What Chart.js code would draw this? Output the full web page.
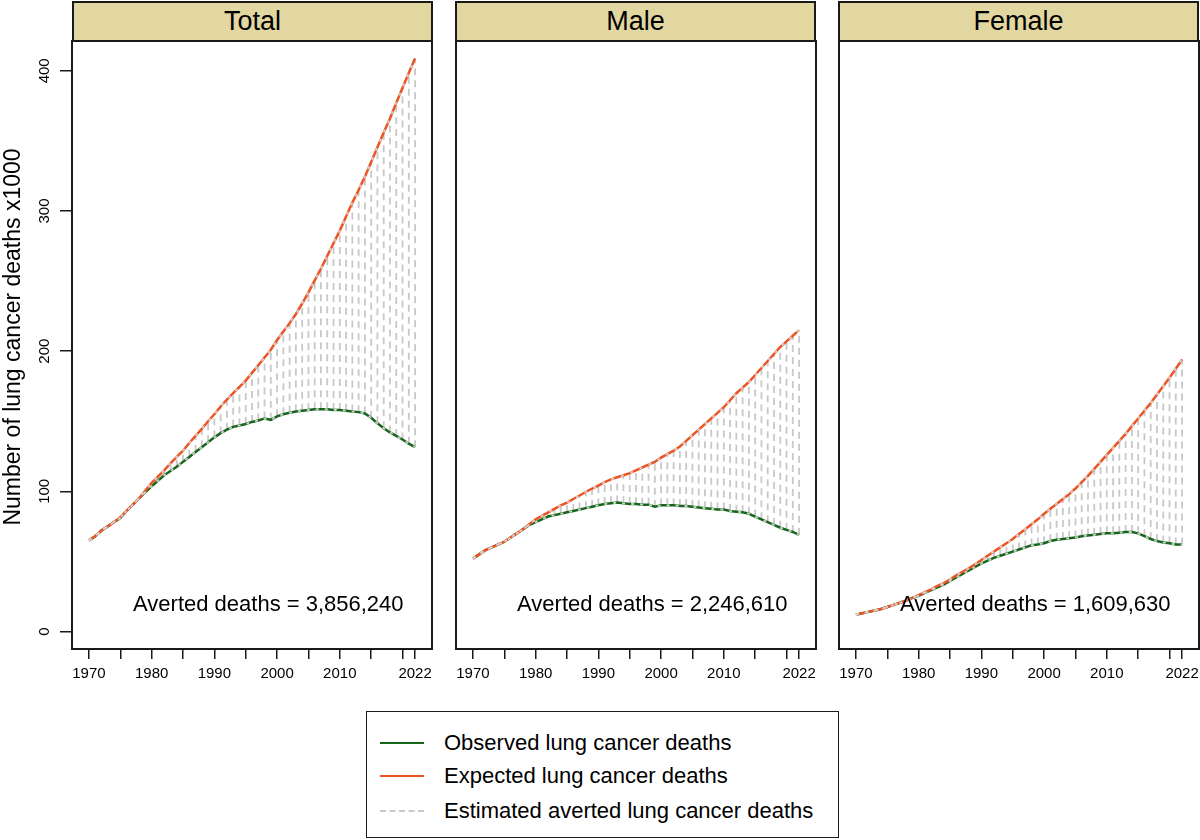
<!DOCTYPE html>
<html>
<head>
<meta charset="utf-8">
<title>Averted lung cancer deaths</title>
<script src="https://cdn.jsdelivr.net/npm/chart.js@4.4.0/dist/chart.umd.min.js"></script>
<style>
  html, body { margin: 0; padding: 0; background: #fff; }
  #wrap { position: relative; width: 1200px; height: 840px; overflow: hidden;
          font-family: "Liberation Sans", Arial, Helvetica, sans-serif; color: #000; }
  .strip { position: absolute; top: 1px; height: 41px; box-sizing: border-box;
           border: 2px solid #1a1a1a; background: #e3d7a1; text-align: center;
           font-size: 27px; line-height: 36px; }
  .cv { position: absolute; top: 40px; height: 659px; }
  #ytitle { position: absolute; left: -238px; top: 324px; width: 500px; text-align: center;
            font-size: 23px; line-height: 26px; transform: rotate(-90deg); }
  #legend { position: absolute; left: 366px; top: 711px; width: 473px; height: 127px;
            box-sizing: border-box; border: 1.5px solid #1a1a1a; }
  .row { position: absolute; left: 0; height: 30px; font-size: 22px; line-height: 30px; }
  .row .sw { position: absolute; left: 13px; top: 14px; width: 44px; height: 0; }
  .row .tx { position: absolute; left: 77px; top: 0; white-space: nowrap; }
</style>
</head>
<body>
<div id="wrap">
  <div class="strip" style="left:72px;width:361px">Total</div>
  <div class="strip" style="left:455px;width:361px">Male</div>
  <div class="strip" style="left:838px;width:361px">Female</div>

  <div class="cv" style="left:0px;width:452px"><canvas id="c0"></canvas></div>
  <div class="cv" style="left:436px;width:400px"><canvas id="c1"></canvas></div>
  <div class="cv" style="left:819px;width:400px"><canvas id="c2"></canvas></div>

  <div id="ytitle">Number of lung cancer deaths x1000</div>

  <div id="legend">
    <div class="row" style="top:16px"><div class="sw" style="border-top:2.5px solid #16661a"></div><div class="tx">Observed lung cancer deaths</div></div>
    <div class="row" style="top:49px"><div class="sw" style="border-top:2.5px solid #ec5424"></div><div class="tx">Expected lung cancer deaths</div></div>
    <div class="row" style="top:84px"><div class="sw" style="border-top:2px dashed #c8c8c8"></div><div class="tx">Estimated averted lung cancer deaths</div></div>
  </div>
</div>

<script>
// 年份
const years = [1970, 1971, 1972, 1973, 1974, 1975, 1976, 1977, 1978, 1979,
                1980, 1981, 1982, 1983, 1984, 1985, 1986, 1987, 1988, 1989,
                1990, 1991, 1992, 1993, 1994, 1995, 1996, 1997, 1998, 1999,
                2000, 2001, 2002, 2003, 2004, 2005, 2006, 2007, 2008, 2009,
                2010, 2011, 2012, 2013, 2014, 2015, 2016, 2017, 2018, 2019,
                2020, 2021, 2022];

// 死亡人数 (x1000)
const totalObserved = [65, 68, 72, 75, 78, 81, 86, 90.5, 95, 99.5,
                       103.5, 107.5, 111.5, 114.5, 117.5, 121, 124.5, 128, 131.5, 135,
                       138.5, 141.5, 144, 146, 147, 148, 149.5, 150.5, 152, 151,
                       153.5, 155, 156, 157, 157.5, 158, 158.5, 158.5, 158.5, 158,
                       158, 157.5, 157, 156.5, 155.5, 152.5, 148.5, 145, 142, 139.5,
                       137, 134, 131.5];
const totalExpected = [65, 68, 72, 75, 78, 81.5, 86, 90.5, 95, 100.5,
                       106, 110.5, 115, 120, 124.5, 129, 134.5, 139.5, 144.5, 150,
                       155, 160.5, 165.5, 170, 174.5, 179, 184.5, 190, 195.5, 201,
                       208, 214, 220, 226.5, 234, 242, 250.5, 259, 268, 277,
                       286, 296, 306, 315, 324.5, 335, 345.5, 356, 366, 377,
                       388, 398.5, 409];
const maleObserved = [52, 55, 58, 60, 62, 64, 67, 70, 73, 76,
                      78, 80, 82, 83, 84, 85, 86, 87, 88, 89,
                      90, 91, 91.5, 92, 91.5, 91, 91, 90.5, 90.5, 89,
                      90, 90, 90, 89.5, 89.5, 89, 88.5, 88, 87.5, 87,
                      87, 86, 85.5, 85, 84, 82, 80, 78, 76, 74,
                      72.5, 71, 69];
const maleExpected = [52, 55, 58, 60, 62, 64, 67, 70, 73, 76.5,
                      80, 82.5, 85, 87.5, 90, 92, 94.5, 97, 99.5, 102,
                      104, 106.5, 108.5, 110, 111.5, 113, 115, 117, 119, 121,
                      124, 126.5, 129, 132, 136, 140, 144, 148, 152, 156,
                      160, 165, 170, 174, 178, 183, 188, 193, 198, 203,
                      207, 211, 215];
const femaleObserved = [12, 13, 14, 15, 16, 17.5, 19, 20.5, 22, 24,
                        25.5, 27.5, 29.5, 31.5, 33.5, 36, 38.5, 41, 43.5, 46,
                        48.5, 50.5, 52.5, 54, 55.5, 57, 58.5, 60, 61.5, 62,
                        63, 64.5, 65.5, 66, 66.5, 67, 68, 68.5, 69, 69.5,
                        70, 70, 70.5, 71, 71, 70, 68, 66, 64.5, 63.5,
                        63, 62, 62];
const femaleExpected = [12, 13, 14, 15, 16, 17.5, 19, 20.5, 22, 24,
                        26, 28, 30, 32.5, 34.5, 37, 40, 42.5, 45, 48,
                        51, 54, 57, 60, 63, 66, 69.5, 73, 76.5, 80,
                        84, 87.5, 91, 94.5, 98, 102, 106.5, 111, 116, 121,
                        126, 131, 136, 141, 146.5, 152, 157.5, 163, 169, 175,
                        181, 187.5, 194];

const avertedNotes = ['Averted deaths = 3,856,240', 'Averted deaths = 2,246,610', 'Averted deaths = 1,609,630'];

// 坐标轴刻度
const xTickValues = [1970, 1975, 1980, 1985, 1990, 1995, 2000, 2005, 2010, 2015, 2020, 2022];
const xTickLabels = [1970, 1980, 1990, 2000, 2010, 2022];
const yTickValues = [0, 100, 200, 300, 400];

const FONT = '"Liberation Sans", Arial, Helvetica, sans-serif';
const GREEN = '#16661a';
const ORANGE = '#ec5424';
const GREY = '#c8c8c8';

// 边框、注释和y轴标签
const panelDeco = {
    id: 'panelDeco',
    afterDraw(chart, args, opts) {
        const ctx = chart.ctx;
        const a = chart.chartArea;
        const sx = chart.scales.x, sy = chart.scales.y;
        ctx.save();
        ctx.strokeStyle = '#1a1a1a';
        ctx.lineWidth = 2;
        ctx.strokeRect(a.left, a.top, a.right - a.left, a.bottom - a.top);

        ctx.fillStyle = '#000';
        ctx.textAlign = 'center';
        ctx.textBaseline = 'middle';
        ctx.font = '22px ' + FONT;
        ctx.fillText(opts.note, sx.getPixelForValue(1998.6), sy.getPixelForValue(19));

        if (opts.yLabels) {
            ctx.font = '15px ' + FONT;
            sy.ticks.forEach(t => {
                const py = sy.getPixelForValue(t.value);
                ctx.save();
                ctx.translate(sy.right - 27, py);
                ctx.rotate(-Math.PI / 2);
                ctx.fillText(String(t.value), 0, 0);
                ctx.restore();
            });
        }
        ctx.restore();
    }
};

function buildChart(canvasId, observed, expected, note, first) {
    const obsPts = years.map((yr, i) => ({ x: yr, y: observed[i] }));
    const expPts = years.map((yr, i) => ({ x: yr, y: expected[i] }));
    // 每年一条竖线: 观察值 -> 预期值
    const gapPts = [];
    years.forEach((yr, i) => {
        gapPts.push({ x: yr, y: observed[i] });
        gapPts.push({ x: yr, y: expected[i] });
        gapPts.push({ x: yr, y: null });
    });

    const hiddenAxis = (pos) => ({
        type: 'linear', position: pos, min: 0, max: 1,
        ticks: { display: false }, grid: { display: false }, border: { display: false },
        afterFit: s => { s.width = 20; }
    });

    const yAxis = first ? {
        type: 'linear', position: 'left', min: -12.5, max: 422,
        afterBuildTicks: s => { s.ticks = yTickValues.map(v => ({ value: v })); },
        afterFit: s => { s.width = 72; },
        ticks: { display: false },
        grid: { drawOnChartArea: false, drawTicks: true, tickLength: 12, color: '#1a1a1a', lineWidth: 1.5 },
        border: { display: false }
    } : Object.assign(hiddenAxis('left'), { min: -12.5, max: 422 });

    return new Chart(document.getElementById(canvasId), {
        type: 'line',
        data: {
            datasets: [
                { data: gapPts, borderColor: GREY, borderWidth: 1.8, borderDash: [7, 5],
                  pointRadius: 0, spanGaps: false, order: 4 },
                { data: obsPts, borderColor: GREEN, borderWidth: 2.5, pointRadius: 0, order: 3 },
                { data: expPts, borderColor: ORANGE, borderWidth: 2.5, pointRadius: 0, order: 2 },
                { data: obsPts, borderColor: 'rgba(215,215,215,0.9)', borderWidth: 2, borderDash: [3, 6],
                  pointRadius: 0, order: 1 },
                { data: expPts, borderColor: 'rgba(215,215,215,0.9)', borderWidth: 2, borderDash: [3, 7],
                  pointRadius: 0, order: 1 }
            ]
        },
        options: {
            responsive: true,
            maintainAspectRatio: false,
            animation: false,
            layout: { padding: 0 },
            plugins: {
                legend: { display: false },
                tooltip: { enabled: false },
                panelDeco: { note: note, yLabels: first }
            },
            scales: {
                x: {
                    type: 'linear', min: 1967.3, max: 2024.7,
                    afterBuildTicks: s => { s.ticks = xTickValues.map(v => ({ value: v })); },
                    afterFit: s => { s.height = 50; },
                    ticks: {
                        autoSkip: false, maxRotation: 0, padding: 6,
                        color: '#000', font: { family: FONT, size: 15 },
                        callback: v => xTickLabels.includes(v) ? String(v) : ''
                    },
                    grid: { drawOnChartArea: false, drawTicks: true, tickLength: 10, color: '#1a1a1a', lineWidth: 1.5 },
                    border: { display: false }
                },
                y: yAxis,
                yr: hiddenAxis('right')
            }
        },
        plugins: [panelDeco]
    });
}

buildChart('c0', totalObserved, totalExpected, avertedNotes[0], true);
buildChart('c1', maleObserved, maleExpected, avertedNotes[1], false);
buildChart('c2', femaleObserved, femaleExpected, avertedNotes[2], false);
</script>
</body>
</html>
